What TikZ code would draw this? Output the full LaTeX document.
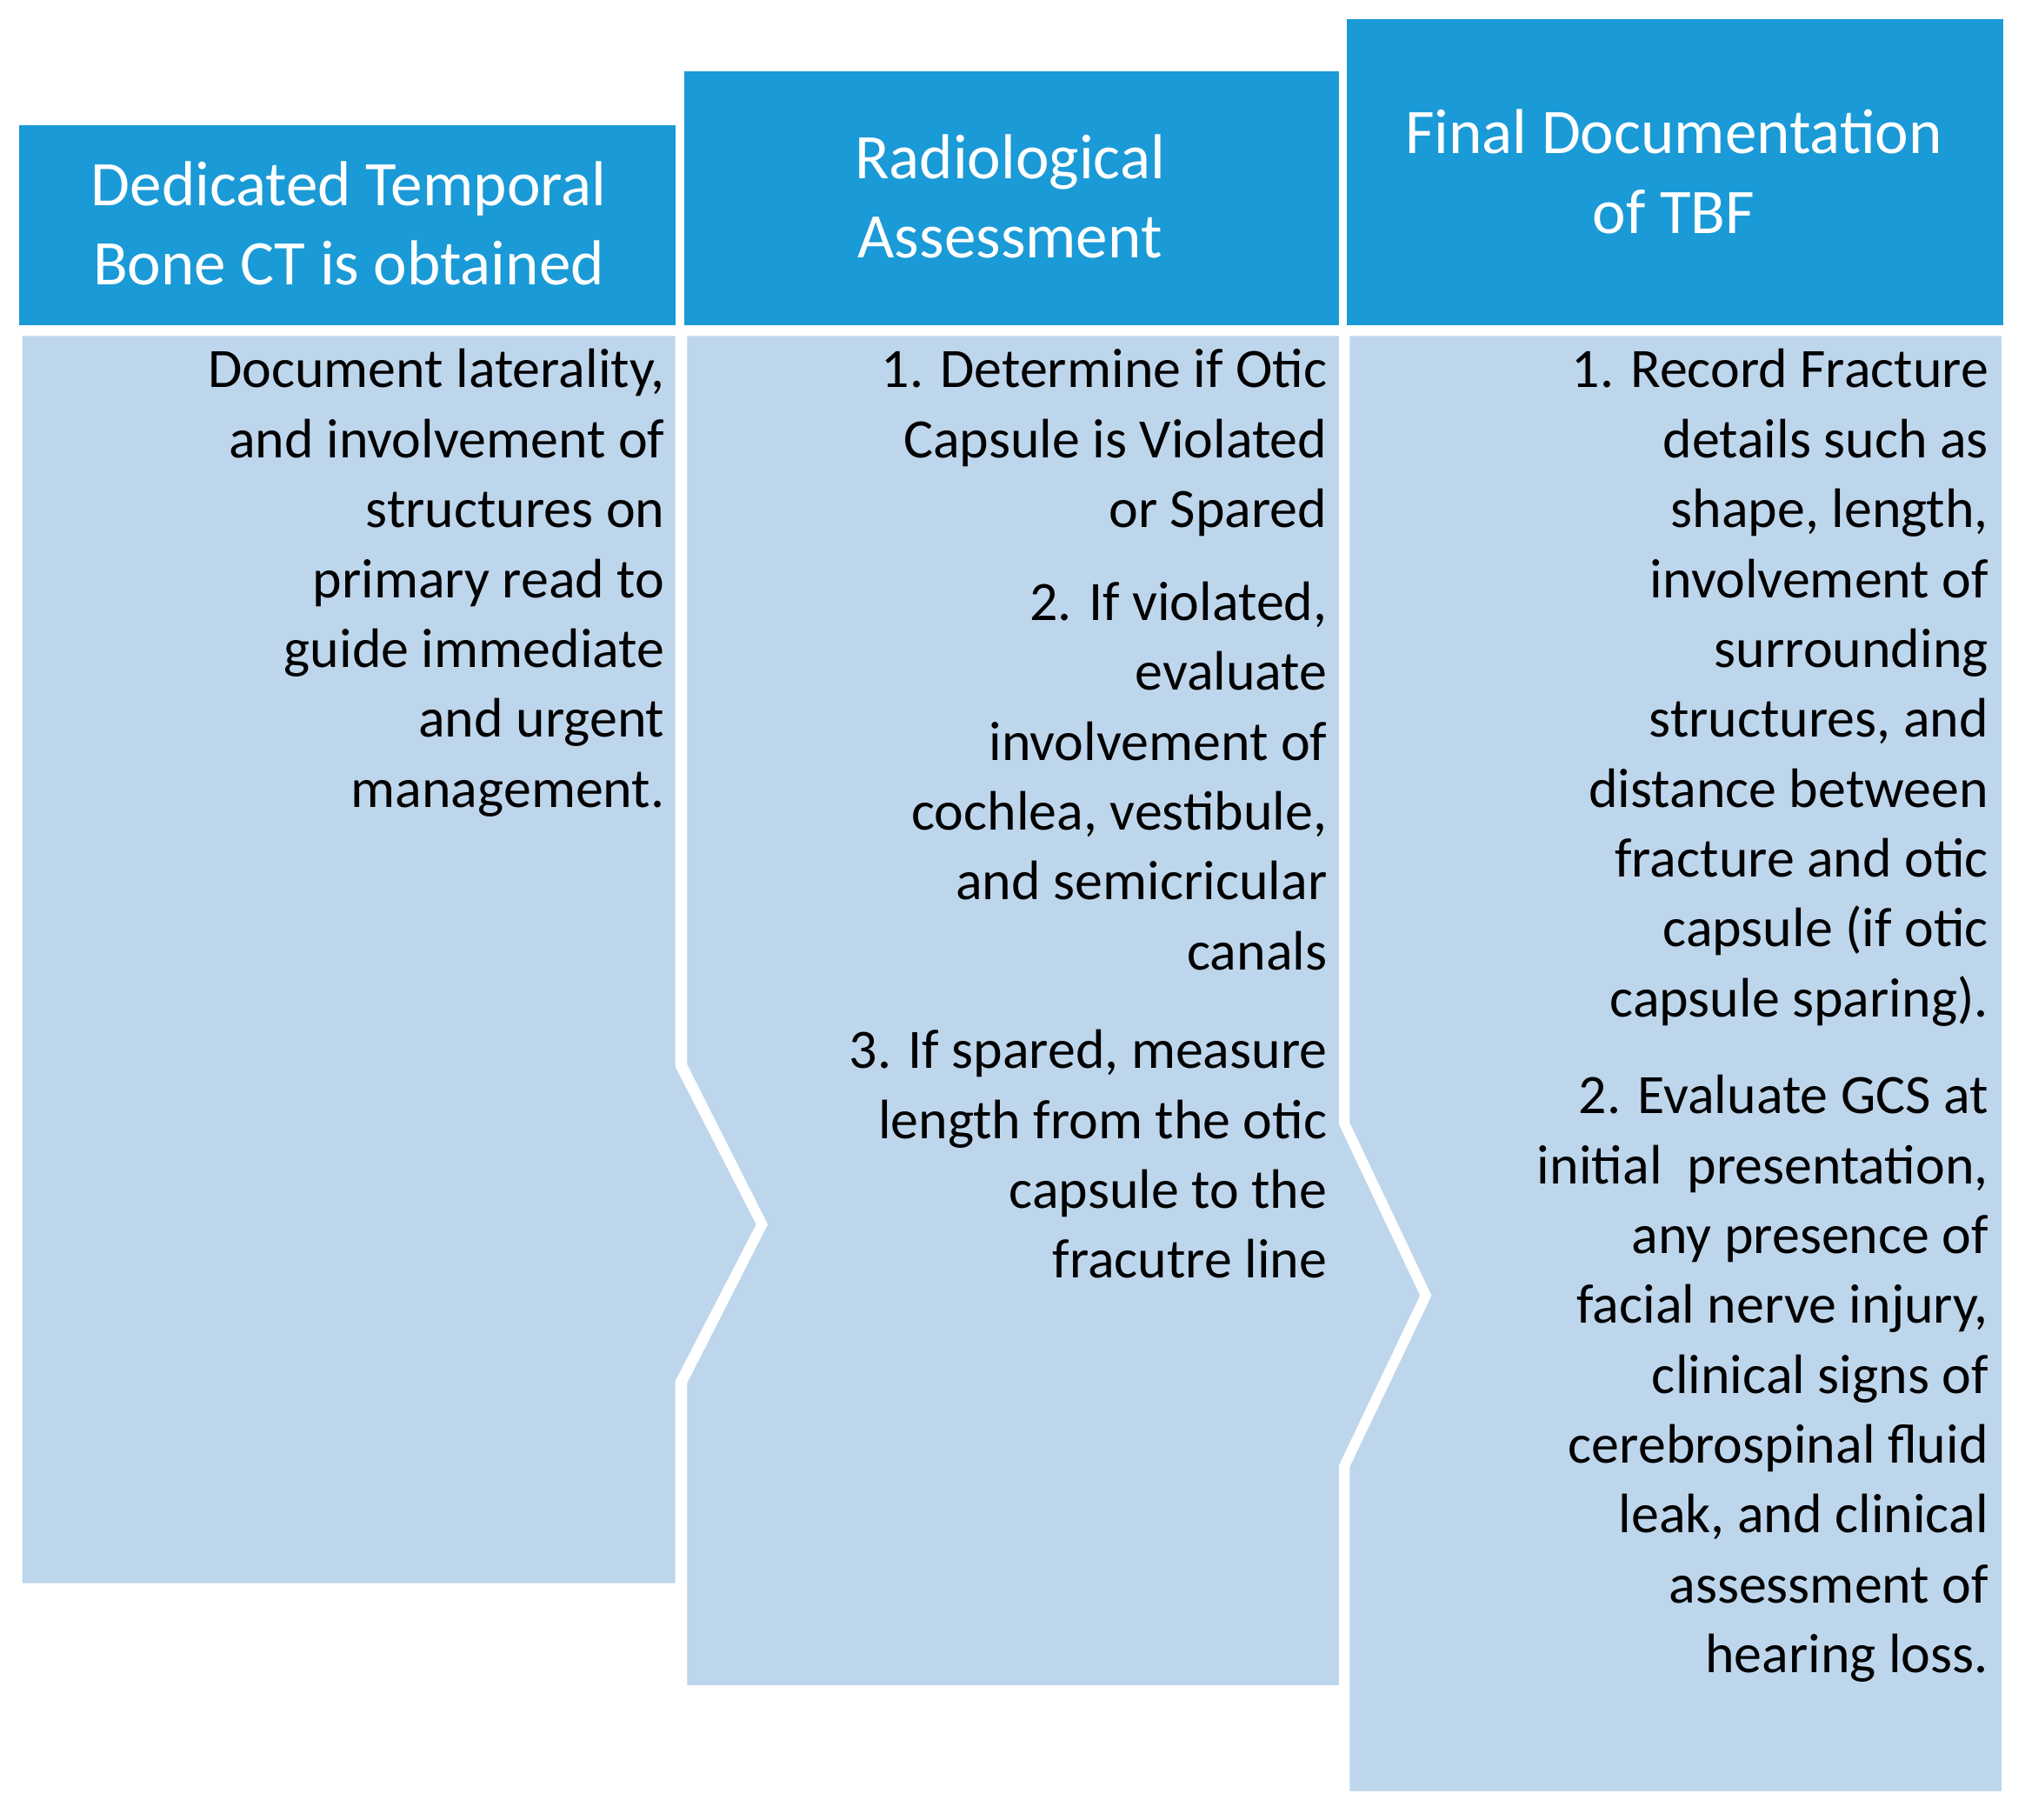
\documentclass[tikz,border=0pt]{standalone}
\usepackage{fontspec}
\setmainfont{Carlito}
\definecolor{hdr}{HTML}{1A9AD6}
\definecolor{bdy}{HTML}{BED6EC}
\begin{document}
\begin{tikzpicture}[x=0.02cm,y=-0.02cm,
  hd/.style={fill=hdr},
  bd/.style={fill=bdy,draw=white,line width=2.5pt,line join=miter},
  ht/.style={text=white,font=\fontsize{28}{35}\selectfont,align=center},
  bt/.style={anchor=north east,font=\fontsize{24.5}{30.8}\selectfont,align=right,inner sep=0pt}]
\useasboundingbox[fill=white] (0,0) rectangle (1568,1409);
% bodies
\path[bd] (15,258) -- (525,258) -- (525,825) -- (588,948) -- (525,1070) -- (525,1228) -- (15,1228) -- cycle;
\path[bd] (530,258) -- (1039,258) -- (1039,870) -- (1102,1003) -- (1039,1135) -- (1039,1307) -- (530,1307) -- (530,1070) -- (592,948) -- (530,825) -- cycle;
\path[bd] (1043,258) -- (1552,258) -- (1552,1389) -- (1043,1389) -- (1043,1135) -- (1106,1003) -- (1043,870) -- cycle;
% headers
\path[hd] (15,97) rectangle (523,252);
\path[hd] (530,55) rectangle (1037,252);
\path[hd] (1043,15) rectangle (1551,252);
\node[ht] (h1) at (270,173) {Dedicated Temporal\\Bone CT is obtained};
\node[ht] (h2) at (782,152) {Radiological\\Assessment};
\node[ht] (h3) at (1296,133) {Final Documentation\\of TBF};
% body text
\node[bt] (t1) at (515,270) {Document laterality,\\and involvement of\\structures on\\primary read to\\guide immediate\\and urgent\\management.};
\node[bt] (t2a) at (1028,270) {1. Determine if Otic\\Capsule is Violated\\or Spared};
\node[bt] (t2b) at (1028,450) {2. If violated,\\evaluate\\involvement of\\cochlea, vestibule,\\and semicricular\\canals};
\node[bt] (t2c) at (1028,797) {3. If spared, measure\\length from the otic\\capsule to the\\fracutre line};
\node[bt] (t3a) at (1540,270) {1. Record Fracture\\details such as\\shape, length,\\involvement of\\surrounding\\structures, and\\distance between\\fracture and otic\\capsule (if otic\\capsule sparing).};
\node[bt] (t3b) at (1540,832) {2. Evaluate GCS at\\initial\ \ presentation,\\any presence of\\facial nerve injury,\\clinical signs of\\cerebrospinal fluid\\leak, and clinical\\assessment of\\hearing loss.};
\end{tikzpicture}
\end{document}
